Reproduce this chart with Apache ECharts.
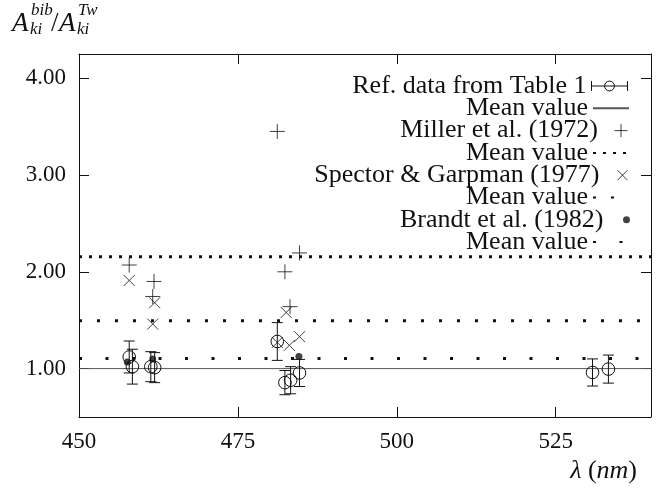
<!DOCTYPE html>
<html>
<head>
<meta charset="utf-8">
<script src="https://cdn.jsdelivr.net/npm/echarts@6/dist/echarts.min.js"></script>
<style>
  html, body { margin: 0; padding: 0; background: #fff; }
  #chart { width: 664px; height: 497px; }
</style>
</head>
<body>
<div id="chart"></div>
<script>
// Reference measurements (Table 1): wavelength, ratio, error half-width
const refX   = [457.9, 458.4, 461.3, 461.9, 481.2, 482.4, 483.3, 484.7, 530.8, 533.3];
const refY   = [1.12, 1.02, 1.02, 1.01, 1.28, 0.855, 0.88, 0.955, 0.96, 0.995];
const refErr = [0.165, 0.18, 0.155, 0.155, 0.195, 0.125, 0.14, 0.14, 0.14, 0.145];

// Miller et al. (1972)
const millerX = [457.9, 461.8, 461.6, 481.2, 482.4, 483.2, 484.7];
const millerY = [2.07, 1.90, 1.745, 3.45, 2.00, 1.64, 2.195];

// Spector & Garpman (1977)
const spectorX = [457.9, 461.9, 461.6, 481.2, 482.6, 483.1, 484.7];
const spectorY = [1.91, 1.68, 1.46, 1.27, 1.58, 1.24, 1.33];

// Brandt et al. (1982)
const brandtX = [457.6, 461.6, 484.6];
const brandtY = [1.067, 1.10, 1.125];

// Mean values: reference, Miller, Spector, Brandt
const meanValues = [1.00, 2.155, 1.495, 1.105];
const xRange = [450, 540];
const yRange = [0.5, 4.25];

const xTicks = [450, 475, 500, 525];
const yTicks = [1, 2, 3, 4];

const legendLabels = [
  'Ref. data from Table 1', 'Mean value',
  'Miller et al. (1972)', 'Mean value',
  'Spector & Garpman (1977)', 'Mean value',
  'Brandt et al. (1982)', 'Mean value'
];

const FONT = '"Liberation Serif", "Times New Roman", serif';
const INK = '#111';

const zip = (xs, ys) => xs.map((x, i) => [x, ys[i]]);
const meanLine = v => xRange.map(x => [x, v]);

const seriesIds = ['ref', 'refMean', 'miller', 'millerMean', 'spector', 'spectorMean', 'brandt', 'brandtMean'];
const labelOf = {};
seriesIds.forEach((id, i) => { labelOf[id] = legendLabels[i]; });

const plusPath = 'path://M5,0 L5,10 M0,5 L10,5';
const crossPath = 'path://M0,0 L10,10 M10,0 L0,10';
const errIcon = 'path://M0,0 L0,12 M0,6 L44,6 M44,0 L44,12 M28,6 A6,6,0,1,1,16,6 A6,6,0,1,1,28,6';

// Line series legend keys: hide the marker, keep the stroked line
const hiddenMarker = { itemStyle: { color: 'transparent', borderColor: 'transparent', opacity: 0 } };

const legendIcons = {
  ref: { icon: errIcon, itemStyle: { color: 'none', borderColor: INK, borderWidth: 1 } },
  refMean: hiddenMarker,
  miller: { icon: plusPath, itemStyle: { color: 'none', borderColor: INK, borderWidth: 1 } },
  millerMean: hiddenMarker,
  spector: { icon: crossPath, itemStyle: { color: 'none', borderColor: INK, borderWidth: 1 } },
  spectorMean: hiddenMarker,
  brandt: { icon: 'circle', itemStyle: { color: INK } },
  brandtMean: hiddenMarker
};

const iconHeights = { ref: 12, miller: 13, spector: 10, brandt: 7 };

const legends = seriesIds.map((id, i) => ({
  data: [Object.assign({ name: id }, legendIcons[id])],
  right: 34,
  top: 73 + i * 22.3,
  padding: 0,
  align: 'right',
  itemWidth: 36,
  itemHeight: iconHeights[id] || 12,
  itemGap: 0,
  selectedMode: false,
  formatter: name => labelOf[name],
  textStyle: { fontFamily: FONT, fontSize: 26, color: INK }
}));

const axisCommon = {
  type: 'value',
  axisLine: { show: true, lineStyle: { color: INK, width: 1 } },
  axisTick: { show: true, inside: true, length: 10, lineStyle: { color: INK, width: 1 } },
  splitLine: { show: false }
};

const option = {
  backgroundColor: '#fff',
  animation: false,
  grid: { left: 79, right: 13, top: 54, bottom: 80, containLabel: false },
  legend: legends,
  xAxis: [
    Object.assign({}, axisCommon, {
      min: xRange[0], max: xRange[1], position: 'bottom',
      axisTick: Object.assign({}, axisCommon.axisTick, { customValues: xTicks }),
      axisLabel: { customValues: xTicks, margin: 13, fontFamily: FONT, fontSize: 23, color: INK }
    }),
    Object.assign({}, axisCommon, {
      min: xRange[0], max: xRange[1], position: 'top',
      axisTick: Object.assign({}, axisCommon.axisTick, { customValues: xTicks }),
      axisLabel: { show: false }
    })
  ],
  yAxis: [
    Object.assign({}, axisCommon, {
      min: yRange[0], max: yRange[1], position: 'left',
      axisTick: Object.assign({}, axisCommon.axisTick, { customValues: yTicks }),
      axisLabel: { customValues: yTicks, margin: 13, fontFamily: FONT, fontSize: 23, color: INK,
                   formatter: v => v.toFixed(2) }
    }),
    Object.assign({}, axisCommon, {
      min: yRange[0], max: yRange[1], position: 'right',
      axisTick: Object.assign({}, axisCommon.axisTick, { customValues: yTicks }),
      axisLabel: { show: false }
    })
  ],
  series: [
    {
      id: 'ref', name: 'ref', type: 'custom',
      data: refX.map((x, i) => [x, refY[i], refErr[i]]),
      z: 5,
      renderItem: (params, api) => {
        const x = api.value(0), y = api.value(1), e = api.value(2);
        const c = api.coord([x, y]);
        const t = api.coord([x, y + e]);
        const b = api.coord([x, y - e]);
        const cap = 5.5;
        const st = { stroke: INK, lineWidth: 1, fill: null };
        return {
          type: 'group',
          children: [
            { type: 'line', shape: { x1: c[0], y1: t[1], x2: c[0], y2: b[1] }, style: st },
            { type: 'line', shape: { x1: c[0] - cap, y1: t[1], x2: c[0] + cap, y2: t[1] }, style: st },
            { type: 'line', shape: { x1: c[0] - cap, y1: b[1], x2: c[0] + cap, y2: b[1] }, style: st },
            { type: 'circle', shape: { cx: c[0], cy: c[1], r: 6.3 }, style: { stroke: INK, lineWidth: 1, fill: 'none' } }
          ]
        };
      }
    },
    {
      id: 'refMean', name: 'refMean', type: 'line', data: meanLine(meanValues[0]),
      symbol: 'none', lineStyle: { color: '#555', width: 1, type: 'solid' }, itemStyle: { color: '#555' }
    },
    {
      id: 'miller', name: 'miller', type: 'scatter', data: zip(millerX, millerY),
      symbol: plusPath, symbolSize: 15,
      itemStyle: { color: 'none', borderColor: INK, borderWidth: 1 }
    },
    {
      id: 'millerMean', name: 'millerMean', type: 'line', data: meanLine(meanValues[1]),
      symbol: 'none', lineStyle: { color: INK, width: 3, type: [3, 7], cap: 'butt' }, itemStyle: { color: INK }
    },
    {
      id: 'spector', name: 'spector', type: 'scatter', data: zip(spectorX, spectorY),
      symbol: crossPath, symbolSize: 11,
      itemStyle: { color: 'none', borderColor: INK, borderWidth: 1 }
    },
    {
      id: 'spectorMean', name: 'spectorMean', type: 'line', data: meanLine(meanValues[2]),
      symbol: 'none', lineStyle: { color: INK, width: 3, type: [3, 15], cap: 'butt' }, itemStyle: { color: INK }
    },
    {
      id: 'brandt', name: 'brandt', type: 'scatter', data: zip(brandtX, brandtY),
      symbol: 'circle', symbolSize: 7, z: 6,
      itemStyle: { color: INK }
    },
    {
      id: 'brandtMean', name: 'brandtMean', type: 'line', data: meanLine(meanValues[3]),
      symbol: 'none', lineStyle: { color: INK, width: 3, type: [3, 23.5], cap: 'butt' }, itemStyle: { color: INK }
    }
  ],
  graphic: [
    // y-axis quantity: A_ki^bib / A_ki^Tw
    {
      type: 'group', left: 12, top: 2,
      children: [
        { type: 'text', x: 0, y: 8, style: { text: 'A', font: 'italic 27px ' + FONT, fill: INK } },
        { type: 'text', x: 19, y: 0, style: { text: 'bib', font: 'italic 17px ' + FONT, fill: INK } },
        { type: 'text', x: 18, y: 19, style: { text: 'ki', font: 'italic 17px ' + FONT, fill: INK } },
        { type: 'text', x: 39, y: 8, style: { text: '/', font: '27px ' + FONT, fill: INK } },
        { type: 'text', x: 47, y: 8, style: { text: 'A', font: 'italic 27px ' + FONT, fill: INK } },
        { type: 'text', x: 66, y: 0, style: { text: 'Tw', font: 'italic 17px ' + FONT, fill: INK } },
        { type: 'text', x: 65, y: 19, style: { text: 'ki', font: 'italic 17px ' + FONT, fill: INK } }
      ]
    },
    // x-axis quantity: wavelength in nm
    {
      type: 'text', right: 27, top: 458,
      style: {
        text: '{i|λ }{u|(}{i|nm}{u|)}',
        rich: {
          i: { font: 'italic 26px ' + FONT, fill: INK },
          u: { font: '26px ' + FONT, fill: INK }
        }
      }
    }
  ]
};

const chart = echarts.init(document.getElementById('chart'), null, { renderer: 'canvas' });
chart.setOption(option);
</script>
</body>
</html>
